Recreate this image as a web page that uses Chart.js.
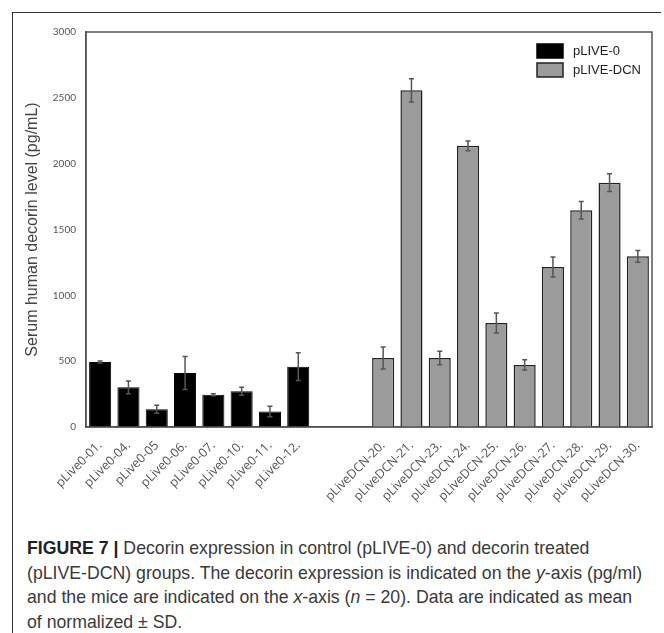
<!DOCTYPE html>
<html>
<head>
<meta charset="utf-8">
<script src="https://cdn.jsdelivr.net/npm/chart.js@4.4.1/dist/chart.umd.min.js"></script>
<style>
  html, body { margin: 0; padding: 0; background: #fff; }
  body { width: 664px; height: 633px; position: relative; overflow: hidden; }
  #frame { position: absolute; left: 12px; top: 12px; width: 648px; height: 640px;
           border-top: 1.5px solid #333; border-left: 1.5px solid #333; }
  #wrap { position: absolute; left: 0; top: 0; width: 664px; height: 520px; }
  #caption { position: absolute; left: 27px; top: 536px; width: 630px;
             font-family: "Liberation Sans", Arial, sans-serif; font-size: 17.7px;
             line-height: 24.5px; color: #3a3a3a; white-space: nowrap; }
  #caption b { color: #222; }
</style>
</head>
<body>
<div id="frame"></div>
<div id="wrap"><canvas id="myChart" width="664" height="520"></canvas></div>
<div id="caption">
  <div><b>FIGURE 7 |</b> Decorin expression in control (pLIVE-0) and decorin treated</div>
  <div>(pLIVE-DCN) groups. The decorin expression is indicated on the <i>y</i>-axis (pg/ml)</div>
  <div>and the mice are indicated on the <i>x</i>-axis (<i>n</i> = 20). Data are indicated as mean</div>
  <div>of normalized ± SD.</div>
</div>
<script>
// mice, two empty slots between the groups
var mice = ['pLive0-01.', 'pLive0-04.', 'pLive0-05', 'pLive0-06.', 'pLive0-07.', 'pLive0-10.', 'pLive0-11.', 'pLive0-12.',
    '', '',
    'pLiveDCN-20.', 'pLiveDCN-21.', 'pLiveDCN-23.', 'pLiveDCN-24.', 'pLiveDCN-25.', 'pLiveDCN-26.',
    'pLiveDCN-27.', 'pLiveDCN-28.', 'pLiveDCN-29.', 'pLiveDCN-30.'];

var ctrlMean = [494, 301, 135, 410, 245, 271, 117, 458, null, null,
    null, null, null, null, null, null, null, null, null, null];
var ctrlSD = [8, 48, 30, 125, 7, 30, 40, 105, null, null,
    null, null, null, null, null, null, null, null, null, null];

var dcnMean = [null, null, null, null, null, null, null, null, null, null,
    524, 2557, 524, 2136, 790, 471, 1215, 1646, 1856, 1296];
var dcnSD = [null, null, null, null, null, null, null, null, null, null,
    84, 88, 52, 37, 76, 39, 76, 67, 68, 45];

var yTicks = [0, 500, 1000, 1500, 2000, 2500, 3000];

var errorBars = {
    id: 'errorBars',
    afterDatasetsDraw: function(chart) {
        var c = chart.ctx;
        var y = chart.scales.y;
        c.save();
        c.strokeStyle = '#555';
        c.lineWidth = 1.5;
        chart.data.datasets.forEach(function(ds, i) {
            var meta = chart.getDatasetMeta(i);
            meta.data.forEach(function(bar, j) {
                var v = ds.data[j], sd = ds.sd[j];
                if (v == null || sd == null) return;
                var top = y.getPixelForValue(v + sd);
                var bot = y.getPixelForValue(v - sd);
                c.beginPath();
                c.moveTo(bar.x, top); c.lineTo(bar.x, bot);
                c.moveTo(bar.x - 2.5, top); c.lineTo(bar.x + 2.5, top);
                c.moveTo(bar.x - 2.5, bot); c.lineTo(bar.x + 2.5, bot);
                c.stroke();
            });
        });
        c.restore();
    }
};

var boxAndLegend = {
    id: 'boxAndLegend',
    afterDraw: function(chart) {
        var c = chart.ctx, a = chart.chartArea;
        c.save();
        c.strokeStyle = '#555';
        c.lineWidth = 1.5;
        c.strokeRect(a.left, a.top, a.right - a.left, a.bottom - a.top);
        // legend, top right inside the plot
        var lx = a.right - 115, ly = a.top + 12;
        chart.data.datasets.forEach(function(ds, i) {
            var yy = ly + i * 19;
            c.fillStyle = ds.backgroundColor;
            c.fillRect(lx, yy, 26, 14);
            c.strokeStyle = ds.borderColor;
            c.lineWidth = 1.5;
            c.strokeRect(lx, yy, 26, 14);
            c.fillStyle = '#222';
            c.font = '13px "Liberation Sans", Arial, sans-serif';
            c.textBaseline = 'middle';
            c.fillText(ds.label, lx + 36, yy + 7);
        });
        c.restore();
    }
};

var ctx = document.getElementById('myChart').getContext('2d');
var chart = new Chart(ctx, {
    type: 'bar',
    data: {
        labels: mice,
        datasets: [{
            label: 'pLIVE-0',
            data: ctrlMean,
            sd: ctrlSD,
            backgroundColor: '#000',
            borderColor: '#000',
            borderWidth: 1
        }, {
            label: 'pLIVE-DCN',
            data: dcnMean,
            sd: dcnSD,
            backgroundColor: '#9b9b9b',
            borderColor: '#222',
            borderWidth: 1.5
        }]
    },
    options: {
        responsive: false,
        animation: false,
        layout: { padding: { top: 32, right: 12, left: 0, bottom: 0 } },
        plugins: { legend: { display: false }, tooltip: { enabled: false } },
        datasets: { bar: { grouped: false, barPercentage: 0.78, categoryPercentage: 1 } },
        scales: {
            x: {
                grid: { display: false, drawTicks: false },
                border: { color: '#555', width: 1.5 },
                ticks: {
                    autoSkip: false, maxRotation: 45, minRotation: 45, padding: 11,
                    color: '#555', font: { family: '"Open Sans", sans-serif', size: 12.5 }
                },
                afterFit: function(s) { s.height = 93; }
            },
            y: {
                min: 0, max: 3000,
                grid: { display: false, drawTicks: false },
                border: { color: '#555', width: 1.5 },
                afterBuildTicks: function(s) { s.ticks = yTicks.map(function(v) { return { value: v }; }); },
                ticks: {
                    padding: 10, color: '#555', font: { family: 'Lato, sans-serif', size: 10 },
                    callback: function(v) { return String(v); }
                },
                title: {
                    display: true, text: 'Serum human decorin level (pg/mL)',
                    color: '#444', padding: { top: 23, bottom: 0 },
                    font: { family: '"Liberation Sans", Arial, sans-serif', size: 16, weight: 'normal' }
                },
                afterFit: function(s) { s.width = 86; }
            }
        }
    },
    plugins: [errorBars, boxAndLegend]
});
</script>
</body>
</html>
